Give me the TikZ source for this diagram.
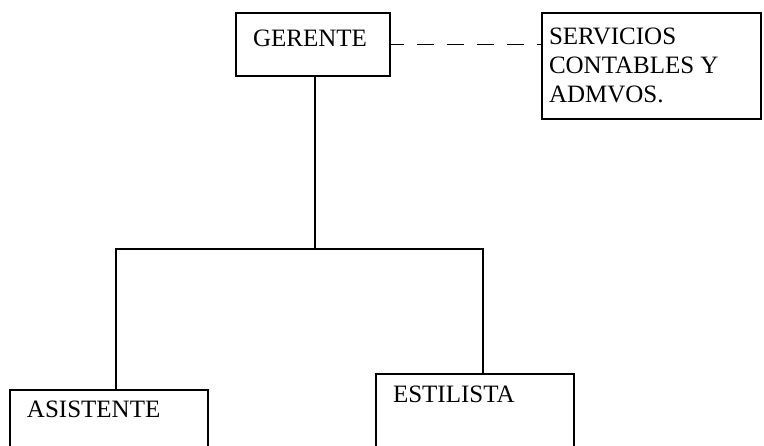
\documentclass[tikz,border=0pt]{standalone}
\usepackage{fontspec}
\setmainfont{Liberation Serif}
\usetikzlibrary{calc}

\begin{document}
\begin{tikzpicture}[x=1pt, y=-1pt, line width=1.4pt,
  orgbox/.style={draw, rectangle, inner sep=0pt},
  lbl/.style={inner sep=0pt, font=\fontsize{25}{29}\selectfont, align=left}]
\useasboundingbox (0,0) rectangle (764,445);
\clip (0,0) rectangle (764,445);

\node[orgbox, minimum width=154pt, minimum height=63pt] (gerente) at (313,44.5) {};
\node[orgbox, minimum width=219pt, minimum height=106pt] (servicios) at (651.5,66) {};
\node[orgbox, minimum width=198pt, minimum height=80pt] (asistente) at (109,430) {};
\node[orgbox, minimum width=198pt, minimum height=96pt] (estilista) at (475,422) {};

\node[lbl, anchor=base west] (t1) at ([xshift=17pt, yshift=-34pt]gerente.north west) {GERENTE};
\node[lbl, anchor=north west] (t2) at ([xshift=7pt, yshift=-15pt]servicios.north west) {SERVICIOS\\CONTABLES Y\\ADMVOS.};
\node[lbl, anchor=base west] (t3) at ([xshift=17pt, yshift=-28pt]asistente.north west) {ASISTENTE};
\node[lbl, anchor=base west] (t4) at ([xshift=17pt, yshift=-29pt]estilista.north west) {ESTILISTA};

\coordinate (split) at (315,249);
\draw[dash pattern=on 17pt off 13pt, dash phase=4pt] (gerente.east) -- (gerente.east -| servicios.west);
\draw (gerente.south -| split) -- (split);
\draw ([xshift=7pt]asistente.north) |- (split) -| ([xshift=8pt]estilista.north);
\end{tikzpicture}
\end{document}
